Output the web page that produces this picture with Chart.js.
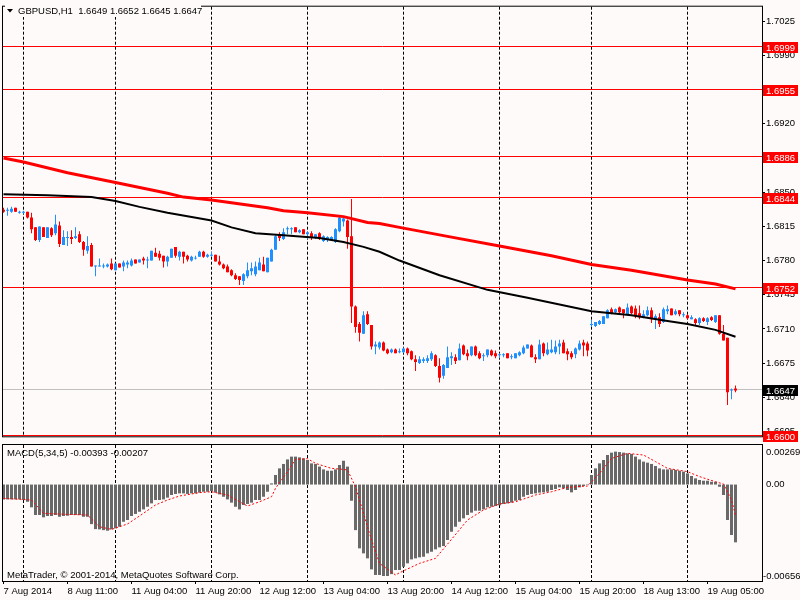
<!DOCTYPE html>
<html>
<head>
<meta charset="utf-8">
<title>GBPUSD,H1</title>
<script src="https://cdn.jsdelivr.net/npm/chart.js@4.4.1/dist/chart.umd.min.js"></script>
<style>
    html, body { margin: 0; padding: 0; background: #fffafa; }
    #wrap { position: relative; width: 800px; height: 600px; overflow: hidden; background: #fffafa; }
    #main { position: absolute; left: 0; top: 0; }
    #macd { position: absolute; left: 0; top: 443px; }
</style>
</head>
<body>
<div id="wrap">
    <canvas id="main" width="800" height="443"></canvas>
    <canvas id="macd" width="800" height="157"></canvas>
</div>
<script>
// GBPUSD H1, bar 0 = 7 Aug 2014 19:00
const opens = [
    1.6832,1.6831,1.6830,1.6834,1.6829,1.6829,1.6830,1.6824,1.6814,1.6801,
    1.6814,1.6803,1.6813,1.6808,1.6816,1.6796,1.6803,1.6804,1.6803,1.6807,
    1.6799,1.6790,1.6796,1.6774,1.6774,1.6774,1.6774,1.6777,1.6770,1.6777,
    1.6774,1.6776,1.6775,1.6781,1.6778,1.6782,1.6780,1.6780,1.6788,1.6787,
    1.6785,1.6779,1.6783,1.6794,1.6784,1.6789,1.6785,1.6780,1.6782,1.6784,
    1.6789,1.6784,1.6785,1.6786,1.6779,1.6776,1.6774,1.6770,1.6765,1.6764,
    1.6759,1.6764,1.6769,1.6766,1.6770,1.6776,1.6768,1.6779,1.6791,1.6807,
    1.6802,1.6812,1.6812,1.6814,1.6809,1.6812,1.6807,1.6808,1.6804,1.6808,
    1.6800,1.6802,1.6801,1.6799,1.6810,1.6820,1.6821,1.6805,1.6733,1.6715,
    1.6705,1.6725,1.6714,1.6692,1.6691,1.6696,1.6689,1.6686,1.6689,1.6686,
    1.6686,1.6690,1.6687,1.6679,1.6675,1.6677,1.6677,1.6679,1.6683,1.6672,
    1.6662,1.6670,1.6680,1.6681,1.6678,1.6693,1.6685,1.6683,1.6692,1.6685,
    1.6682,1.6683,1.6688,1.6685,1.6683,1.6683,1.6685,1.6681,1.6680,1.6683,
    1.6685,1.6690,1.6693,1.6681,1.6679,1.6695,1.6684,1.6686,1.6686,1.6692,
    1.6696,1.6687,1.6685,1.6684,1.6689,1.6696,1.6695,1.6714,1.6713,1.6715,
    1.6715,1.6721,1.6730,1.6727,1.6732,1.6730,1.6725,1.6733,1.6731,1.6726,
    1.6722,1.6724,1.6729,1.6720,1.6722,1.6717,1.6728,1.6731,1.6725,1.6729,
    1.6724,1.6724,1.6720,1.6720,1.6716,1.6721,1.6717,1.6722,1.6717,1.6724,
    1.6705,1.6701,1.6647,1.6649
];
const highs = [
    1.6834,1.6834,1.6835,1.6834,1.6831,1.6831,1.6830,1.6829,1.6814,1.6815,
    1.6814,1.6814,1.6814,1.6827,1.6820,1.6811,1.6810,1.6811,1.6814,1.6810,
    1.6800,1.6805,1.6798,1.6775,1.6782,1.6777,1.6777,1.6782,1.6777,1.6777,
    1.6780,1.6780,1.6782,1.6781,1.6781,1.6784,1.6784,1.6790,1.6793,1.6790,
    1.6785,1.6785,1.6792,1.6794,1.6790,1.6789,1.6786,1.6785,1.6785,1.6790,
    1.6790,1.6787,1.6789,1.6786,1.6785,1.6777,1.6776,1.6771,1.6767,1.6764,
    1.6767,1.6778,1.6778,1.6779,1.6783,1.6784,1.6783,1.6792,1.6806,1.6809,
    1.6813,1.6815,1.6814,1.6814,1.6812,1.6812,1.6810,1.6810,1.6807,1.6809,
    1.6806,1.6805,1.6805,1.6813,1.6825,1.6825,1.6822,1.6843,1.6734,1.6717,
    1.6728,1.6728,1.6714,1.6697,1.6697,1.6697,1.6690,1.6690,1.6690,1.6690,
    1.6691,1.6691,1.6688,1.6683,1.6682,1.6681,1.6683,1.6687,1.6684,1.6680,
    1.6674,1.6692,1.6686,1.6684,1.6695,1.6694,1.6689,1.6692,1.6693,1.6687,
    1.6685,1.6689,1.6689,1.6688,1.6685,1.6685,1.6685,1.6684,1.6685,1.6687,
    1.6693,1.6694,1.6694,1.6684,1.6699,1.6696,1.6696,1.6699,1.6698,1.6699,
    1.6699,1.6690,1.6687,1.6691,1.6698,1.6699,1.6697,1.6719,1.6717,1.6719,
    1.6723,1.6730,1.6732,1.6731,1.6733,1.6730,1.6736,1.6734,1.6734,1.6734,
    1.6729,1.6733,1.6732,1.6725,1.6726,1.6732,1.6734,1.6731,1.6730,1.6729,
    1.6727,1.6725,1.6724,1.6721,1.6722,1.6722,1.6722,1.6723,1.6724,1.6724,
    1.6714,1.6701,1.6649,1.6652
];
const lows = [
    1.6829,1.6826,1.6829,1.6830,1.6828,1.6828,1.6823,1.6808,1.6800,1.6799,
    1.6804,1.6803,1.6804,1.6806,1.6794,1.6796,1.6795,1.6797,1.6802,1.6798,
    1.6785,1.6787,1.6774,1.6764,1.6774,1.6772,1.6773,1.6770,1.6770,1.6773,
    1.6769,1.6772,1.6774,1.6777,1.6778,1.6776,1.6772,1.6780,1.6784,1.6780,
    1.6773,1.6774,1.6783,1.6783,1.6780,1.6777,1.6779,1.6779,1.6781,1.6784,
    1.6783,1.6783,1.6784,1.6779,1.6775,1.6771,1.6768,1.6764,1.6760,1.6755,
    1.6755,1.6762,1.6765,1.6764,1.6770,1.6769,1.6768,1.6779,1.6791,1.6800,
    1.6801,1.6807,1.6807,1.6809,1.6808,1.6807,1.6802,1.6801,1.6802,1.6801,
    1.6799,1.6799,1.6801,1.6798,1.6809,1.6815,1.6792,1.6716,1.6706,1.6697,
    1.6705,1.6714,1.6689,1.6684,1.6689,1.6687,1.6684,1.6685,1.6685,1.6685,
    1.6685,1.6683,1.6678,1.6667,1.6674,1.6675,1.6675,1.6677,1.6671,1.6655,
    1.6659,1.6670,1.6673,1.6674,1.6678,1.6683,1.6678,1.6682,1.6682,1.6679,
    1.6677,1.6681,1.6682,1.6680,1.6680,1.6681,1.6680,1.6679,1.6680,1.6682,
    1.6684,1.6690,1.6681,1.6675,1.6679,1.6682,1.6683,1.6685,1.6684,1.6684,
    1.6685,1.6678,1.6679,1.6680,1.6688,1.6682,1.6682,1.6712,1.6712,1.6714,
    1.6715,1.6721,1.6725,1.6726,1.6726,1.6721,1.6724,1.6725,1.6721,1.6720,
    1.6721,1.6723,1.6716,1.6710,1.6712,1.6716,1.6725,1.6724,1.6724,1.6723,
    1.6722,1.6720,1.6720,1.6714,1.6714,1.6717,1.6714,1.6718,1.6716,1.6704,
    1.6698,1.6632,1.6638,1.6645
];
const closes = [
    1.6830,1.6832,1.6833,1.6830,1.6830,1.6830,1.6824,1.6812,1.6801,1.6815,
    1.6804,1.6814,1.6806,1.6817,1.6797,1.6804,1.6804,1.6802,1.6805,1.6799,
    1.6791,1.6795,1.6774,1.6775,1.6775,1.6775,1.6776,1.6771,1.6777,1.6773,
    1.6778,1.6778,1.6780,1.6777,1.6781,1.6780,1.6781,1.6790,1.6784,1.6783,
    1.6779,1.6784,1.6792,1.6785,1.6789,1.6784,1.6781,1.6784,1.6783,1.6789,
    1.6784,1.6786,1.6786,1.6779,1.6776,1.6772,1.6768,1.6765,1.6761,1.6760,
    1.6766,1.6770,1.6772,1.6774,1.6778,1.6769,1.6783,1.6791,1.6805,1.6803,
    1.6809,1.6813,1.6813,1.6809,1.6811,1.6807,1.6809,1.6803,1.6807,1.6802,
    1.6805,1.6804,1.6804,1.6812,1.6824,1.6823,1.6804,1.6733,1.6712,1.6706,
    1.6724,1.6715,1.6692,1.6694,1.6696,1.6688,1.6685,1.6689,1.6685,1.6687,
    1.6690,1.6685,1.6679,1.6676,1.6679,1.6679,1.6680,1.6685,1.6672,1.6660,
    1.6673,1.6681,1.6682,1.6677,1.6690,1.6684,1.6682,1.6692,1.6683,1.6680,
    1.6683,1.6689,1.6683,1.6682,1.6684,1.6684,1.6680,1.6682,1.6685,1.6686,
    1.6691,1.6694,1.6681,1.6679,1.6694,1.6685,1.6689,1.6689,1.6692,1.6695,
    1.6685,1.6684,1.6681,1.6690,1.6695,1.6693,1.6688,1.6715,1.6717,1.6718,
    1.6723,1.6729,1.6726,1.6730,1.6727,1.6726,1.6732,1.6726,1.6723,1.6722,
    1.6725,1.6729,1.6720,1.6723,1.6715,1.6730,1.6730,1.6724,1.6728,1.6725,
    1.6725,1.6721,1.6722,1.6716,1.6721,1.6718,1.6721,1.6719,1.6724,1.6705,
    1.6698,1.6645,1.6648,1.6647
];

// moving averages, read at sample bars: [bar, price]
const maRed = [
    [0,1.6885],[5,1.6881],[16,1.6870],[28,1.6860],[41,1.6849],[45,1.6845],[52,1.6842],
    [66,1.6834],[70,1.6831],[76,1.6829],[85,1.6825],[91,1.6819],[94,1.6818],[99,1.6814],
    [112,1.6804],[124,1.6795],[137,1.6785],[147,1.6776],[157,1.6770],[171,1.6760],
    [178,1.6756],[183,1.6751]
];
const maBlack = [
    [0,1.6848],[11,1.6847],[22,1.6845],[28,1.6841],[34,1.6835],[41,1.6829],[52,1.6821],
    [57,1.6814],[63,1.6808],[70,1.6806],[79,1.6803],[85,1.6799],[90,1.6794],[94,1.6789],
    [99,1.6780],[109,1.6765],[121,1.6750],[131,1.6742],[147,1.6728],[157,1.6724],
    [166,1.6718],[171,1.6715],[178,1.6709],[183,1.6702]
];

// MACD(5,34,5) main, one value per bar
const macdMain = [
    -0.00101,-0.00101,-0.00101,-0.00101,-0.00101,-0.00105,-0.00117,-0.00155,-0.00207,-0.00207,
    -0.00223,-0.00214,-0.00214,-0.00207,-0.00219,-0.00214,-0.00212,-0.00207,-0.00207,-0.00207,
    -0.00219,-0.00219,-0.00269,-0.00303,-0.00305,-0.00310,-0.00314,-0.00305,-0.00298,-0.00287,
    -0.00253,-0.00241,-0.00214,-0.00200,-0.00185,-0.00169,-0.00151,-0.00128,-0.00105,-0.00105,
    -0.00101,-0.00089,-0.00071,-0.00064,-0.00060,-0.00060,-0.00064,-0.00060,-0.00060,-0.00055,
    -0.00049,-0.00049,-0.00044,-0.00055,-0.00067,-0.00083,-0.00101,-0.00123,-0.00151,-0.00169,
    -0.00139,-0.00132,-0.00123,-0.00105,-0.00105,-0.00083,-0.00049,0.00008,0.00065,0.00110,
    0.00140,0.00171,0.00190,0.00190,0.00185,0.00178,0.00167,0.00144,0.00140,0.00122,
    0.00103,0.00094,0.00094,0.00103,0.00133,0.00162,0.00122,-0.00110,-0.00310,-0.00434,
    -0.00468,-0.00502,-0.00577,-0.00615,-0.00615,-0.00622,-0.00622,-0.00609,-0.00581,-0.00581,
    -0.00559,-0.00536,-0.00509,-0.00502,-0.00495,-0.00491,-0.00468,-0.00457,-0.00441,-0.00427,
    -0.00418,-0.00377,-0.00321,-0.00287,-0.00253,-0.00230,-0.00207,-0.00191,-0.00178,-0.00178,
    -0.00169,-0.00155,-0.00151,-0.00146,-0.00141,-0.00132,-0.00128,-0.00123,-0.00110,-0.00105,
    -0.00083,-0.00071,-0.00064,-0.00060,-0.00055,-0.00053,-0.00049,-0.00037,-0.00030,-0.00019,
    -0.00026,-0.00037,-0.00053,-0.00037,-0.00019,-0.00010,-0.00003,0.00065,0.00110,0.00144,
    0.00167,0.00201,0.00217,0.00224,0.00221,0.00217,0.00212,0.00208,0.00190,0.00171,
    0.00156,0.00149,0.00140,0.00126,0.00110,0.00103,0.00103,0.00103,0.00099,0.00094,
    0.00088,0.00076,0.00058,0.00042,0.00031,0.00026,0.00026,0.00019,0.00019,-0.00015,
    -0.00071,-0.00241,-0.00343,-0.00393
];
// signal line, read at sample bars
const macdSignal = [
    [0,-0.00094],[7,-0.00105],[10,-0.00196],[16,-0.00203],[21,-0.00207],[24,-0.00287],
    [27,-0.00305],[31,-0.00268],[34,-0.00214],[38,-0.00139],[41,-0.00105],[44,-0.00078],
    [49,-0.00055],[52,-0.00049],[56,-0.00071],[59,-0.00117],[61,-0.00146],[64,-0.00117],
    [67,-0.00083],[68,-0.00026],[71,0.00088],[73,0.00171],[76,0.00176],[78,0.00144],
    [82,0.00110],[85,0.00103],[86,0.00099],[88,-0.00015],[90,-0.00196],[92,-0.00377],
    [94,-0.00536],[98,-0.00615],[99,-0.00600],[104,-0.00536],[108,-0.00502],[112,-0.00373],
    [116,-0.00241],[120,-0.00173],[124,-0.00132],[128,-0.00117],[133,-0.00071],[137,-0.00049],
    [141,-0.00019],[146,-0.00010],[149,0.00076],[152,0.00178],[156,0.00212],[160,0.00201],
    [163,0.00156],[166,0.00110],[171,0.00088],[174,0.00054],[178,0.00019],[180,0.00004],
    [182,-0.00105],[183,-0.00207]
];

const levels = [1.6999, 1.6955, 1.6886, 1.6844, 1.6752, 1.6600];
const priceTicks = [1.6605,1.6640,1.6675,1.6710,1.6745,1.6780,1.6815,1.6850,1.6885,1.6920,1.6955,1.6990,1.7025];
const dayStarts = [5, 28, 52, 76, 100, 124, 147, 171];
const timeTickBars = [0, 16, 32, 48, 64, 80, 96, 112, 128, 144, 160, 176];
const timeTickText = ['7 Aug 2014', '8 Aug 11:00', '11 Aug 04:00', '11 Aug 20:00', '12 Aug 12:00', '13 Aug 04:00',
    '13 Aug 20:00', '14 Aug 12:00', '15 Aug 04:00', '15 Aug 20:00', '18 Aug 13:00', '19 Aug 05:00'];

const BG = '#fffafa';
const BULL = '#1e90ff';
const BEAR = '#ff0000';
const FONT = '9.5px "Liberation Sans", Arial, sans-serif';
const last = closes.length - 1;
const bid = closes[last];

Chart.defaults.font.family = '"Liberation Sans", Arial, sans-serif';
Chart.defaults.font.size = 9.5;
Chart.defaults.color = '#000';

// 4 px per bar, bar i centred at x = 3.5 + 4i
const xRange = { type: 'linear', min: -0.125, max: 189.625, offset: false, bounds: 'data', grace: 0 };

function fillBg(chart) {
    const { ctx, width, height } = chart;
    ctx.save();
    ctx.fillStyle = BG;
    ctx.fillRect(0, 0, width, height);
    ctx.restore();
}

function dayLines(chart) {
    const { ctx, chartArea: a, scales: { x } } = chart;
    ctx.save();
    ctx.strokeStyle = '#000';
    ctx.lineWidth = 1;
    ctx.setLineDash([3, 2]);
    dayStarts.forEach(i => {
        const px = x.getPixelForValue(i);
        ctx.beginPath();
        ctx.moveTo(px, a.top);
        ctx.lineTo(px, a.bottom);
        ctx.stroke();
    });
    ctx.restore();
}

function frame(chart) {
    const { ctx, chartArea: a } = chart;
    ctx.save();
    ctx.strokeStyle = '#000';
    ctx.lineWidth = 1;
    ctx.strokeRect(a.left - 0.5, a.top - 0.5, a.right - a.left + 1, a.bottom - a.top + 1);
    ctx.restore();
}

function priceTag(ctx, y, text, fill) {
    ctx.fillStyle = fill;
    ctx.fillRect(763, Math.round(y) - 5, 35, 11);
    ctx.fillStyle = '#fff';
    ctx.fillText(text, 766, Math.round(y) + 1);
}

const mainDeco = {
    id: 'mainDeco',
    beforeDraw: fillBg,
    beforeDatasetsDraw(chart) {
        const { ctx, chartArea: a, scales: { y } } = chart;
        dayLines(chart);
        ctx.save();
        ctx.lineWidth = 1;
        ctx.strokeStyle = '#c0c0c0';
        let py = Math.round(y.getPixelForValue(bid)) - 0.5;
        ctx.beginPath(); ctx.moveTo(a.left, py); ctx.lineTo(a.right, py); ctx.stroke();
        ctx.strokeStyle = '#ff0000';
        levels.forEach(v => {
            py = Math.round(y.getPixelForValue(v)) - 0.5;
            ctx.beginPath(); ctx.moveTo(a.left, py); ctx.lineTo(a.right, py); ctx.stroke();
        });
        ctx.restore();
    },
    afterDraw(chart) {
        const { ctx, scales: { y } } = chart;
        frame(chart);
        ctx.save();
        ctx.font = FONT;
        ctx.textBaseline = 'middle';
        ctx.textAlign = 'left';
        levels.forEach(v => priceTag(ctx, y.getPixelForValue(v), v.toFixed(4), '#ff0000'));
        priceTag(ctx, y.getPixelForValue(bid), bid.toFixed(4), '#000');
        // symbol header
        ctx.fillStyle = BG;
        ctx.fillRect(5, 4, 196, 13);
        ctx.fillStyle = '#000';
        ctx.beginPath();
        ctx.moveTo(7, 9); ctx.lineTo(13, 9); ctx.lineTo(10, 12.5); ctx.closePath();
        ctx.fill();
        const ohlc = [opens[last], highs[last], lows[last], closes[last]].map(v => v.toFixed(4)).join(' ');
        ctx.fillText('GBPUSD,H1  ' + ohlc, 18, 11);
        ctx.restore();
    }
};

const bars = closes.map((c, i) => i);
const candleColor = bars.map(i => closes[i] >= opens[i] ? BULL : BEAR);

new Chart(document.getElementById('main'), {
    type: 'bar',
    data: {
        datasets: [
            { type: 'line', data: maRed.map(p => ({ x: p[0], y: p[1] })), borderColor: '#ff0000', borderWidth: 3, pointRadius: 0, order: 0 },
            { type: 'line', data: maBlack.map(p => ({ x: p[0], y: p[1] })), borderColor: '#000', borderWidth: 2, pointRadius: 0, order: 0 },
            { data: bars.map(i => ({ x: i, y: [opens[i], closes[i]] })), backgroundColor: candleColor,
              barThickness: 3, grouped: false, inflateAmount: 0, order: 1 },
            { data: bars.map(i => ({ x: i, y: [lows[i], highs[i]] })), backgroundColor: candleColor,
              barThickness: 1, grouped: false, inflateAmount: 0, order: 2 }
        ]
    },
    options: {
        responsive: false, animation: false, devicePixelRatio: 1,
        layout: { padding: { left: 3, top: 2, right: 0, bottom: 1 } },
        plugins: { legend: { display: false }, tooltip: { enabled: false } },
        scales: {
            x: { ...xRange, display: false, grid: { offset: false } },
            y: {
                position: 'right', min: 1.6600, max: 1.7040,
                afterFit: s => { s.width = 38; },
                afterBuildTicks: s => { s.ticks = priceTicks.map(v => ({ value: v })); },
                ticks: { callback: v => Number(v).toFixed(4), padding: 1, color: '#000' },
                grid: { drawOnChartArea: false, tickLength: 3, color: '#000' },
                border: { color: '#000' }
            }
        }
    },
    plugins: [mainDeco]
});

const macdMin = -0.00656, macdMax = 0.00269;

const macdDeco = {
    id: 'macdDeco',
    beforeDraw: fillBg,
    beforeDatasetsDraw: dayLines,
    afterDraw(chart) {
        const { ctx, scales: { y } } = chart;
        frame(chart);
        ctx.save();
        ctx.font = FONT;
        ctx.fillStyle = '#000';
        ctx.textBaseline = 'middle';
        ctx.textAlign = 'left';
        ctx.fillText('MACD(5,34,5) ' + macdMain[last].toFixed(5) + ' ' + macdSignal[macdSignal.length - 1][1].toFixed(5), 7, 10);
        ctx.fillText('MetaTrader, \u00a9 2001-2014, MetaQuotes Software Corp.', 7, 132);
        ctx.fillText(macdMax.toFixed(5), 766, y.getPixelForValue(macdMax) + 7);
        ctx.fillText('0.00', 766, y.getPixelForValue(0));
        ctx.fillText(macdMin.toFixed(5), 763, y.getPixelForValue(macdMin) - 5);
        ctx.restore();
    }
};

new Chart(document.getElementById('macd'), {
    type: 'bar',
    data: {
        datasets: [
            { type: 'line', data: macdSignal.map(p => ({ x: p[0], y: p[1] })), borderColor: '#ff0000', borderWidth: 1,
              borderDash: [2, 2], pointRadius: 0, order: 0 },
            { data: bars.map(i => ({ x: i, y: macdMain[i] })), backgroundColor: '#696969',
              barThickness: 3, grouped: false, inflateAmount: 0, order: 1 }
        ]
    },
    options: {
        responsive: false, animation: false, devicePixelRatio: 1,
        layout: { padding: { left: 3, top: 2, right: 0, bottom: 0 } },
        plugins: { legend: { display: false }, tooltip: { enabled: false } },
        scales: {
            x: {
                ...xRange,
                afterFit: s => { s.height = 19; },
                afterBuildTicks: s => { s.ticks = timeTickBars.map(v => ({ value: v })); },
                ticks: { callback: v => timeTickText[timeTickBars.indexOf(v)], align: 'start', autoSkip: false, maxRotation: 0, padding: 2, color: '#000' },
                grid: { drawOnChartArea: false, tickLength: 3, color: '#000', offset: false },
                border: { color: '#000' }
            },
            y: {
                position: 'right', min: macdMin, max: macdMax,
                afterFit: s => { s.width = 38; },
                ticks: { display: false },
                grid: { display: false },
                border: { color: '#000' }
            }
        }
    },
    plugins: [macdDeco]
});
</script>
</body>
</html>
